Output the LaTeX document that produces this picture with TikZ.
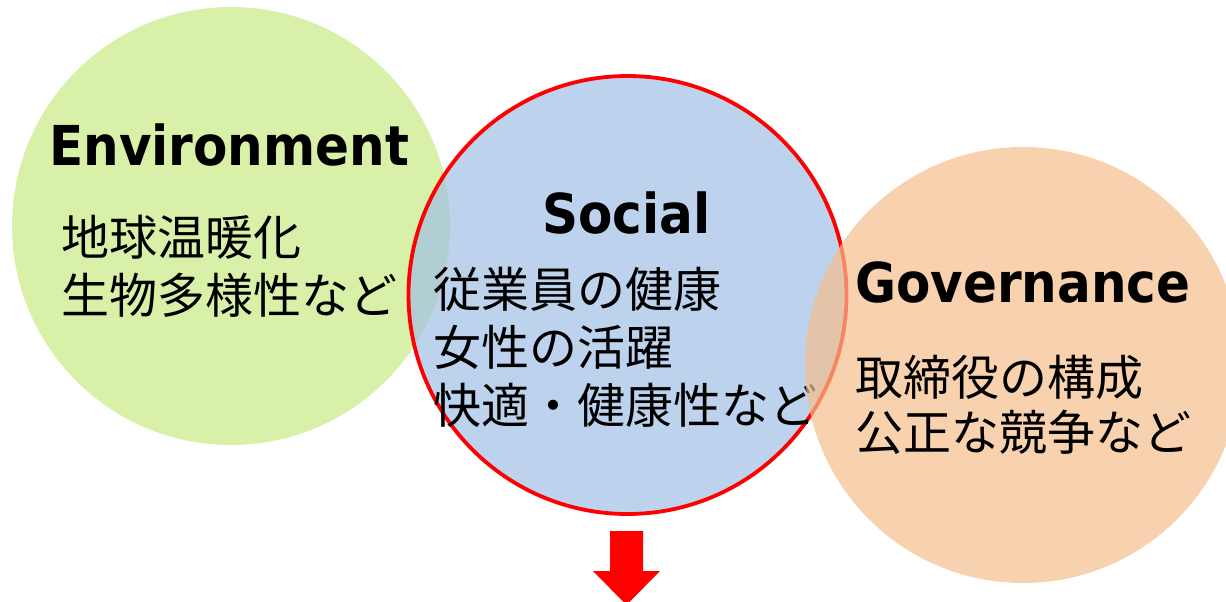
\documentclass[tikz,border=0pt]{standalone}
\usepackage{fontspec}
\newfontfamily\latinbold[FakeStretch=0.91]{DejaVu Sans Bold}
\newfontfamily\cjk{Noto Sans CJK JP}
\definecolor{envgreen}{RGB}{217,240,169}
\definecolor{socblue}{RGB}{161,192,229}
\definecolor{govorange}{RGB}{245,190,140}
\definecolor{arrred}{RGB}{255,0,0}
\begin{document}
\begin{tikzpicture}[x=1pt,y=-1pt,
  ball/.style={circle,inner sep=0pt,outer sep=0pt,minimum size=#1},
  title/.style={anchor=base west,inner sep=0pt,font=\latinbold\fontsize{55}{60}\selectfont},
  item/.style={anchor=base west,inner sep=0pt,font=\cjk\fontsize{48}{57}\selectfont}]
\useasboundingbox (0,0) rectangle (1226,602);
\clip (0,0) rectangle (1226,602);
% Environment
\node[ball=438pt,fill=envgreen] (env) at (231,226) {};
\node[title] (envt) at (49,165) {Environment};
\node[item] (env1) at (61,255) {地球温暖化};
\node[item] (env2) at (61,313) {生物多様性など};
% Social
\node[ball=438pt,fill=socblue,fill opacity=0.7,draw=arrred,line width=3.8pt] (soc) at (627.5,295) {};
\node[title] (soct) at (542,233) {Social};
\node[item] (soc1) at (433,307) {従業員の健康};
\node[item] (soc2) at (433,365) {女性の活躍};
\node[item] (soc3) at (433,423) {快適・健康性など};
% Governance
\node[ball=436pt,fill=govorange,fill opacity=0.7] (gov) at (1023,365) {};
\node[title] (govt) at (855,302) {Governance};
\node[item] (gov1) at (855,395) {取締役の構成};
\node[item] (gov2) at (855,450) {公正な競争など};
% arrow
\fill[arrred] (610,531) -- (643,531) -- (643,571) -- (660,571) -- (626.5,605)
  -- (593,571) -- (610,571) -- cycle;
\end{tikzpicture}
\end{document}
